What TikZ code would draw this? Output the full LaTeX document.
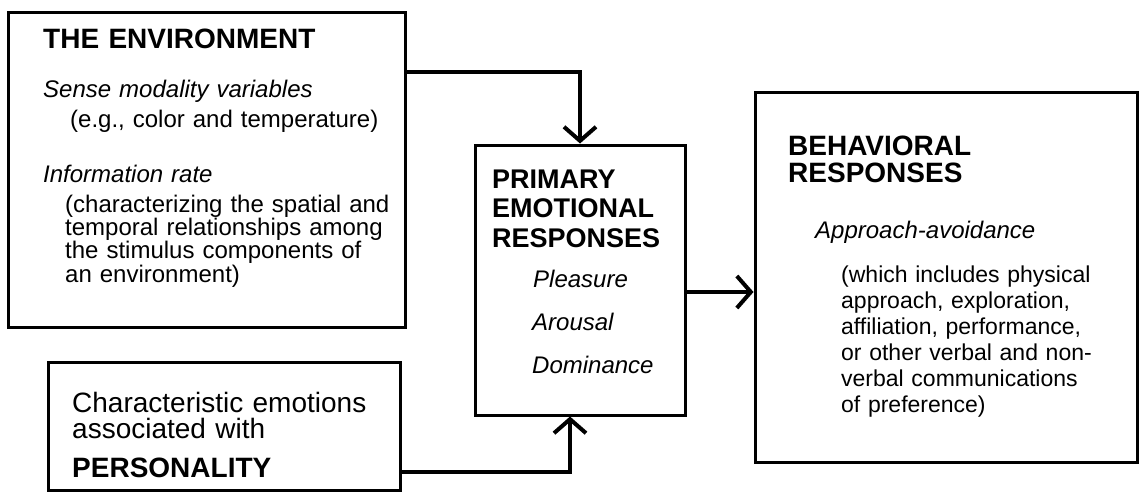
\documentclass[tikz,border=0pt]{standalone}
\usepackage{fontspec}
\setmainfont{Liberation Sans}
\usetikzlibrary{arrows.meta}

\begin{document}
\begin{tikzpicture}[x=1pt,y=-1pt,
	box/.style={draw,line width=3pt,inner sep=0pt},
	arr/.style={line width=4pt,-{Straight Barb[length=14pt,width=32pt]}},
	txt/.style={anchor=base west,inner sep=0pt,align=left,text width=360pt},
	head/.style={txt,font=\fontsize{28}{28.5}\selectfont\bfseries},
	ital/.style={txt,font=\fontsize{24}{21}\selectfont\itshape},
	body/.style={txt,font=\fontsize{24}{21.5}\selectfont}]
	\useasboundingbox (0,0) rectangle (1140,498);

	\node[box,minimum width=397pt,minimum height=315pt] at (206.5,169.5) (Env) {};
	\node[box,minimum width=210pt,minimum height=270pt] at (580,280) (Prim) {};
	\node[box,minimum width=382pt,minimum height=370pt] at (946,277) (Behav) {};
	\node[box,minimum width=352pt,minimum height=128pt] at (224,426) (Pers) {};

	\node[head] at (43,48) (EnvHead) {THE ENVIRONMENT};
	\node[ital] at (43,97) (Sense) {Sense modality variables};
	\node[body] at (70,127) (SenseEx) {(e.g., color and temperature)};
	\node[ital] at (43,182) (Info) {Information rate};
	\node[body] at (65,212) (InfoEx) {(characterizing the spatial and\\temporal relationships among\\the stimulus components of\\an environment)};

	\node[head,font=\fontsize{27}{29.5}\selectfont\bfseries] at (492,188) (PrimHead) {PRIMARY\\EMOTIONAL\\RESPONSES};
	\node[ital] at (533,287) (Pleas) {Pleasure};
	\node[ital] at (532,330) (Arous) {Arousal};
	\node[ital] at (532,373) (Domin) {Dominance};

	\node[head,font=\fontsize{28}{27}\selectfont\bfseries] at (788,155) (BehavHead) {BEHAVIORAL\\RESPONSES};
	\node[ital] at (815,238) (Appr) {Approach-avoidance};
	\node[body,font=\fontsize{23}{26}\selectfont] at (841,282) (ApprEx) {(which includes physical\\approach, exploration,\\affiliation, performance,\\or other verbal and non-\\verbal communications\\of preference)};

	\node[body,font=\fontsize{28}{26}\selectfont] at (72,412) (PersText) {Characteristic emotions\\associated with};
	\node[head,font=\fontsize{28}{28}\selectfont\bfseries] at (72,477) (PersHead) {PERSONALITY};

	\draw[arr] ([yshift=97.5pt]Env.east) -| (Prim.north);
	\draw[arr] ([yshift=-46pt]Pers.east) -| ([xshift=-10pt]Prim.south);
	\draw[arr] ([yshift=-12pt]Prim.east) coordinate (PrimOut) -- (PrimOut -| Behav.west);
\end{tikzpicture}
\end{document}
